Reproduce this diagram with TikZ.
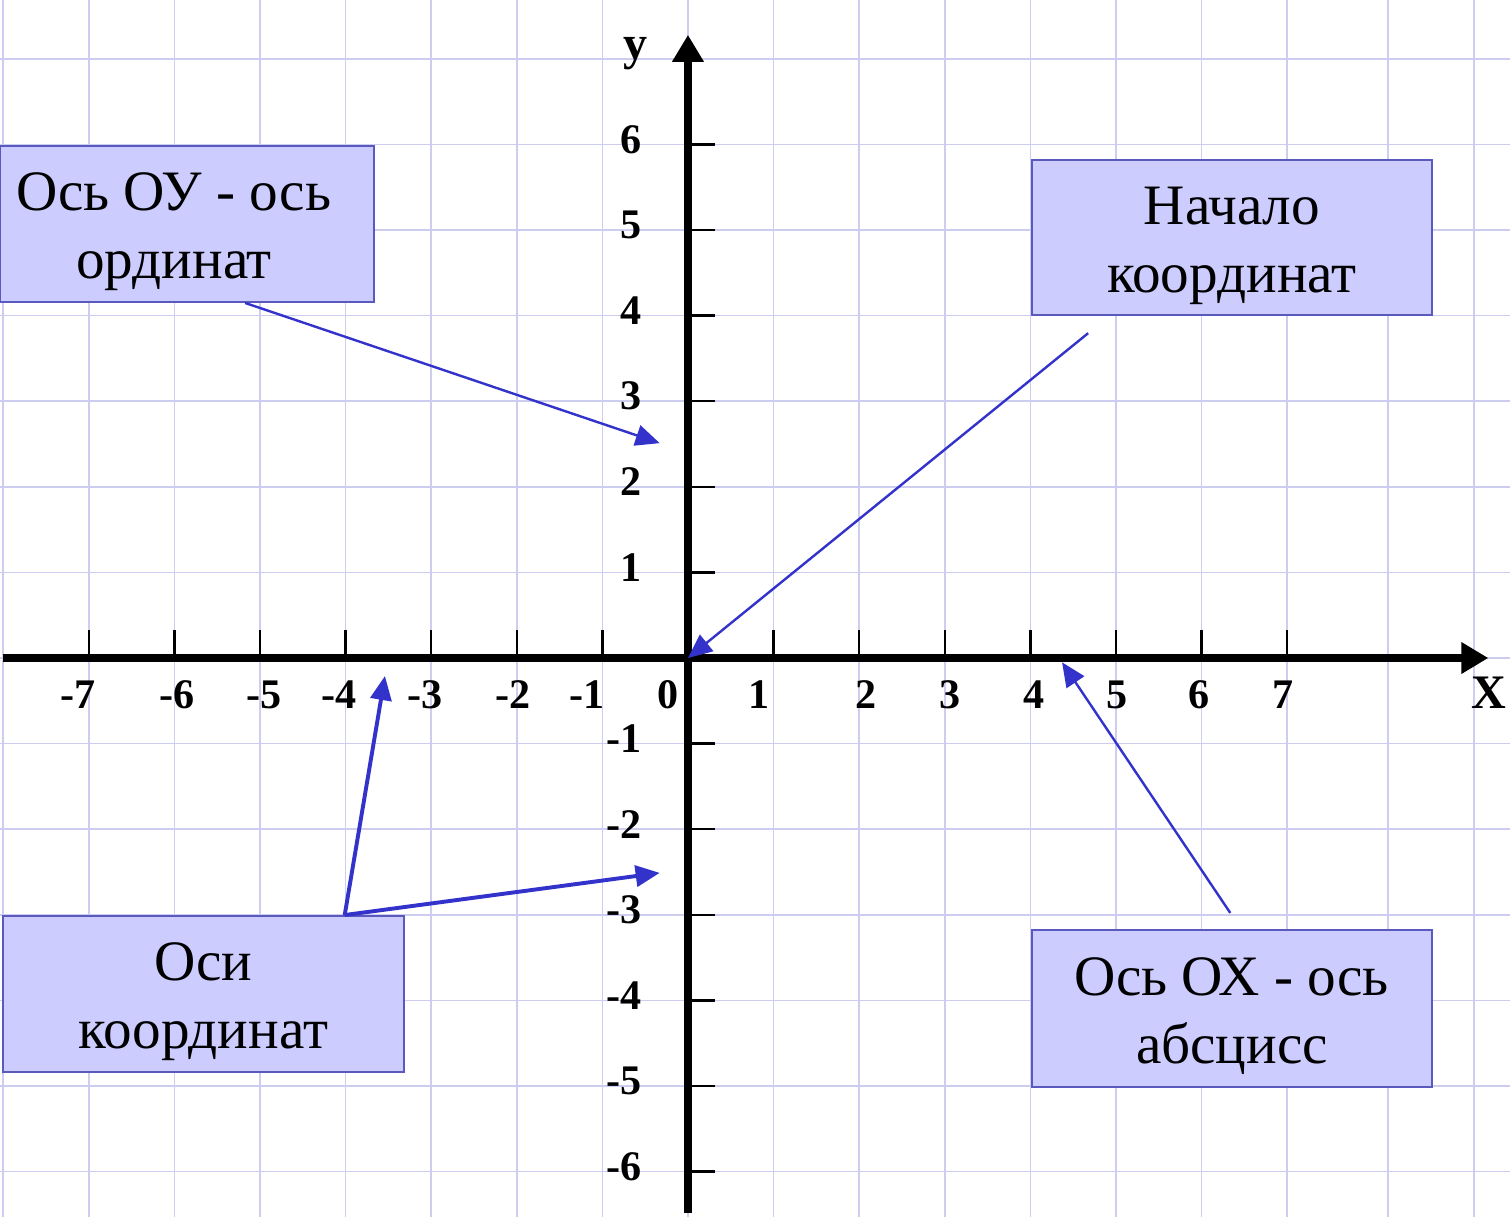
\documentclass[tikz,border=0pt]{standalone}
\usepackage{fontspec}
\setmainfont{Liberation Serif}
\usetikzlibrary{arrows.meta,calc}

\definecolor{gridc}{RGB}{205,205,240}
\definecolor{boxfill}{RGB}{204,204,255}
\definecolor{boxline}{RGB}{90,90,190}
\definecolor{arrblue}{RGB}{51,51,204}

\begin{document}
\begin{tikzpicture}[
    >=Stealth,
    gridln/.style={gridc, line width=0.5pt},
    axisln/.style={-{Triangle[length=9pt,width=10pt]}, line width=2.5pt},
    tickln/.style={line width=0.8pt},
    num/.style={font=\bfseries\fontsize{14}{16}\selectfont, inner sep=0pt},
    axlab/.style={font=\bfseries\fontsize{16}{18}\selectfont, inner sep=0pt},
    lbox/.style={draw=boxline, fill=boxfill, line width=0.7pt, align=center,
                 inner sep=0pt, text height=40.5pt, font=\fontsize{19}{22.6}\selectfont},
    ptr/.style={-{Triangle[length=8pt,width=7pt]}, arrblue, line width=0.8pt},
    tptr/.style={ptr, line width=1.3pt}
]

% ---- frame of the picture ----
\def\xmin{-8.037}
\def\xmax{9.603}
\def\ymin{-6.530}
\def\ymax{7.687}
\useasboundingbox (\xmin,\ymin) rectangle (\xmax,\ymax);
\fill[white] (\xmin,\ymin) rectangle (\xmax,\ymax);

% ===== GRID =====
\foreach \gx in {-8,-7,-6,-5,-4,-3,-2,-1,0,1,2,3,4,5,6,7,8.18,9.18}
  \draw[gridln] (\gx,\ymin) -- (\gx,\ymax);
\foreach \gy in {-6,...,7}
  \draw[gridln] (\xmin,\gy) -- (\xmax,\gy);

% ===== AXES =====
\coordinate (o)  at (0,0);
\coordinate (xl) at (-8.0,0);
\coordinate (xr) at (9.35,0);
\coordinate (yb) at (0,-6.48);
\coordinate (yt) at (0,7.28);
\draw[axisln] (xl) -- (xr);
\draw[axisln] (yb) -- (yt);

\foreach \k in {-7,-6,-5,-4,-3,-2,-1,1,2,3,4,5,6,7}
  \draw[tickln] (\k,0) -- (\k,0.327);
\foreach \k in {-6,-5,-4,-3,-2,-1,1,2,3,4,5,6}
  \draw[tickln] (0,\k) -- (0.32,\k);

% numbers (placed as in the source, a bit off the ticks)
\foreach \v/\px [count=\i] in {-7/-7.126,-6/-5.970,-5/-4.953,-4/-4.077,-3/-3.072,
    -2/-2.044,-1/-1.180,0/-0.234,1/0.829,2/2.079,3/3.061,4/4.042,5/5.012,
    6/5.970,7/6.951}
  \node[num] (xn\i) at (\px,-0.432) {\v};
\foreach \v [count=\i] in {6,5,4,3,2,1,-1,-2,-3,-4,-5,-6}
  \node[num, anchor=east] (yn\i) at (-0.537,\v+0.06) {\v};

\node[axlab] (xlab) at (9.357,-0.409) {X};
\node[axlab] (ylab) at (-0.607,7.062) {у};

% ===== LABEL BOXES =====
% text of the first box sits a little left of centre
\node[lbox, minimum width=4.37cm, minimum height=1.82cm] (oy)
  at (-5.853,5.07) {\hspace*{-0.3cm}Ось ОУ - ось\\\hspace*{-0.3cm}ординат};
\node[lbox, minimum width=4.67cm, minimum height=1.81cm] (start)
  at (6.355,4.912) {Начало\\координат};
\node[lbox, minimum width=4.68cm, minimum height=1.82cm] (axes)
  at (-5.66,-3.925) {Оси\\координат};
\node[lbox, minimum width=4.67cm, minimum height=1.83cm] (ox)
  at (6.355,-4.095) {Ось ОХ - ось\\абсцисс};

% ===== POINTERS =====
\coordinate (oytip) at (-0.33,2.51);
\coordinate (xtip)  at (-3.54,-0.21);
\coordinate (ytip)  at (-0.33,-2.51);
\coordinate (oxtip) at (4.37,-0.05);

\draw[ptr]  ([xshift=0.68cm]oy.south) -- (oytip);
\draw[ptr]  ([xshift=-1.68cm,yshift=-0.2cm]start.south) -- (o);
\draw[tptr] ([xshift=1.65cm]axes.north) -- (xtip);
\draw[tptr] ([xshift=1.65cm]axes.north) -- (ytip);
\draw[ptr]  ([xshift=-0.02cm,yshift=0.19cm]ox.north) -- (oxtip);

\end{tikzpicture}
\end{document}
